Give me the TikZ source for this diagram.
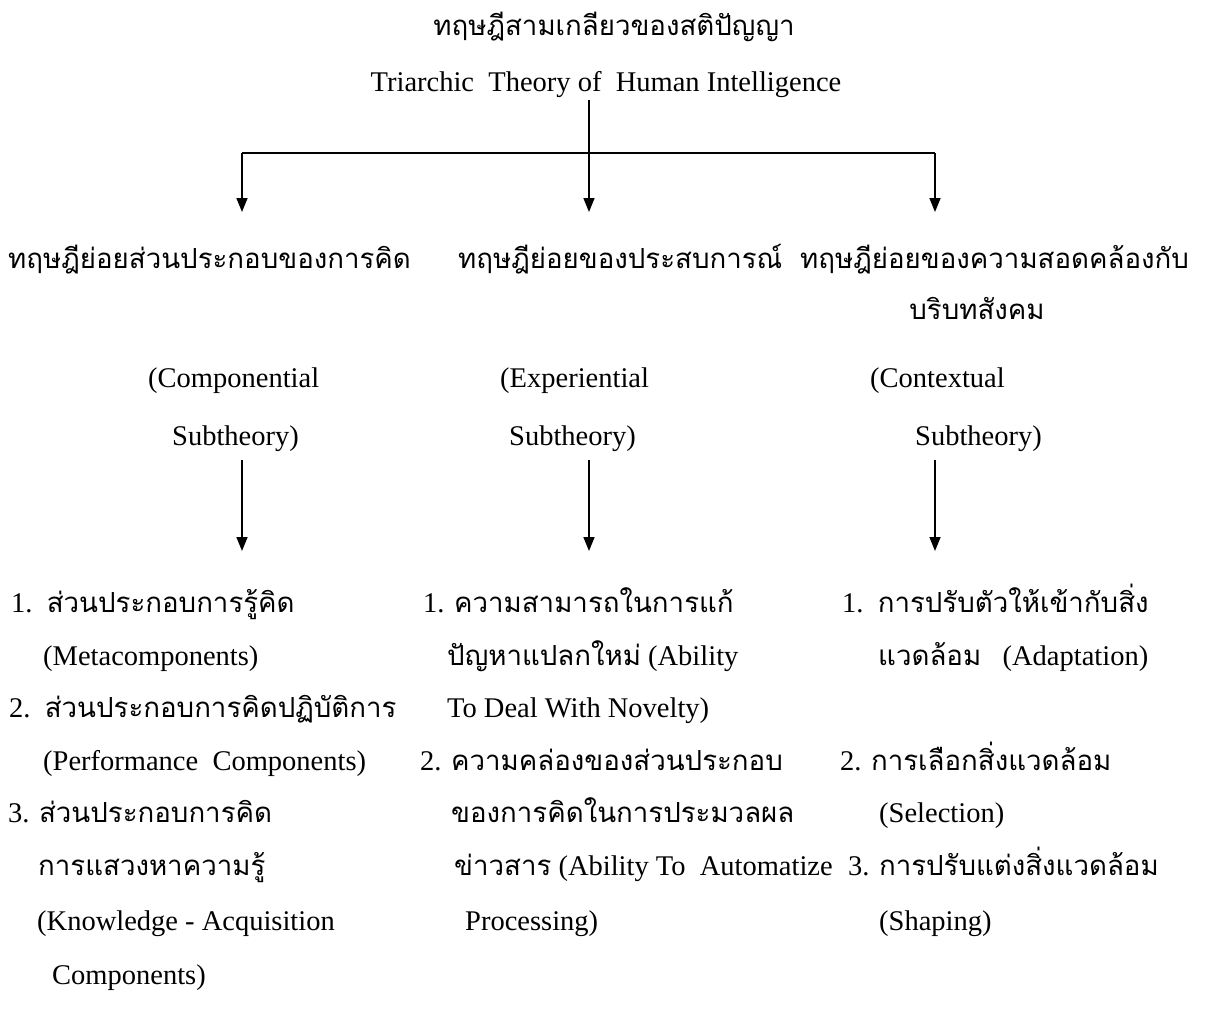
\documentclass[tikz,border=0pt]{standalone}
\usepackage{fontspec}
\setmainfont{Liberation Serif}
\newfontfamily\thf[Script=Thai,Scale=0.97]{Loma}
\usetikzlibrary{arrows.meta}
\tikzset{
  txt/.style={inner sep=0pt, anchor=base west, font=\fontsize{28.5}{30}\selectfont},
  ctxt/.style={inner sep=0pt, anchor=base, font=\fontsize{28.5}{30}\selectfont},
  link/.style={line width=2pt},
  arr/.style={line width=1.6pt, -{Triangle[length=14pt,width=11pt]}}
}
\begin{document}
\begin{tikzpicture}[x=1pt,y=-1pt]
\useasboundingbox[fill=white] (0,0) rectangle (1211,1028);
% titles
\node[ctxt] (title) at (614,35) {\thf ทฤษฎีสามเกลียวของสติปัญญา};
\node[ctxt] (en) at (606,91) {Triarchic\ \ Theory of\ \ Human Intelligence};
% headings
\node[txt] (h1) at (8,268) {\thf ทฤษฎีย่อยส่วนประกอบของการคิด};
\node[txt] (h2) at (458,268) {\thf ทฤษฎีย่อยของประสบการณ์};
\node[txt] (h3) at (800,268) {\thf ทฤษฎีย่อยของความสอดคล้องกับ};
\node[ctxt] (h3b) at (977,319) {\thf บริบทสังคม};
\node[txt] (e1a) at (148,387) {(Componential};
\node[txt] (e1b) at (172,445) {Subtheory)};
\node[txt] (e2a) at (500,387) {(Experiential};
\node[txt] (e2b) at (509,445) {Subtheory)};
\node[txt] (e3a) at (870,387) {(Contextual};
\node[txt] (e3b) at (915,445) {Subtheory)};
% left list
\node[txt] (l1) at (11,612) {1.\ \ {\thf ส่วนประกอบการรู้คิด}};
\node[txt] (l2) at (43,665) {(Metacomponents)};
\node[txt] (l3) at (9,717) {2.\ \ {\thf ส่วนประกอบการคิดปฏิบัติการ}};
\node[txt] (l4) at (43,770) {(Performance\ \ Components)};
\node[txt] (l5) at (8,822) {3. {\thf ส่วนประกอบการคิด}};
\node[txt] (l6) at (38,875) {\thf การแสวงหาความรู้};
\node[txt] (l7) at (37,930) {(Knowledge - Acquisition};
\node[txt] (l8) at (52,984) {Components)};
% middle list
\node[txt] (m1) at (423,612) {1. {\thf ความสามารถในการแก้}};
\node[txt] (m2) at (447,665) {{\thf ปัญหาแปลกใหม่} (Ability};
\node[txt] (m3) at (447,717) {To Deal With Novelty)};
\node[txt] (m4) at (420,770) {2. {\thf ความคล่องของส่วนประกอบ}};
\node[txt] (m5) at (451,822) {\thf ของการคิดในการประมวลผล};
\node[txt] (m6) at (454,875) {{\thf ข่าวสาร} (Ability To\ \ Automatize};
\node[txt] (m7) at (465,930) {Processing)};
% right list
\node[txt] (r1) at (842,612) {1.\ \ {\thf การปรับตัวให้เข้ากับสิ่ง}};
\node[txt] (r2) at (878,665) {{\thf แวดล้อม}\ \ \ (Adaptation)};
\node[txt] (r3) at (840,770) {2. {\thf การเลือกสิ่งแวดล้อม}};
\node[txt] (r4) at (879,822) {(Selection)};
\node[txt] (r5) at (848,875) {3. {\thf การปรับแต่งสิ่งแวดล้อม}};
\node[txt] (r6) at (879,930) {(Shaping)};
% connectors
\coordinate (top) at (589,100);
\coordinate (j) at (589,153);
\coordinate (jl) at (242,153);
\coordinate (jr) at (935,153);
\coordinate (al) at (242,212);
\coordinate (am) at (589,212);
\coordinate (ar) at (935,212);
\draw[link] (top) -- (j);
\draw[link] (jl) -- (jr);
\draw[arr] (jl) -- (al);
\draw[arr] (j) -- (am);
\draw[arr] (jr) -- (ar);
\coordinate (sl) at (242,460);
\coordinate (sm) at (589,460);
\coordinate (sr) at (935,460);
\coordinate (tl) at (242,551);
\coordinate (tm) at (589,551);
\coordinate (tr) at (935,551);
\draw[arr] (sl) -- (tl);
\draw[arr] (sm) -- (tm);
\draw[arr] (sr) -- (tr);
\end{tikzpicture}
\end{document}
